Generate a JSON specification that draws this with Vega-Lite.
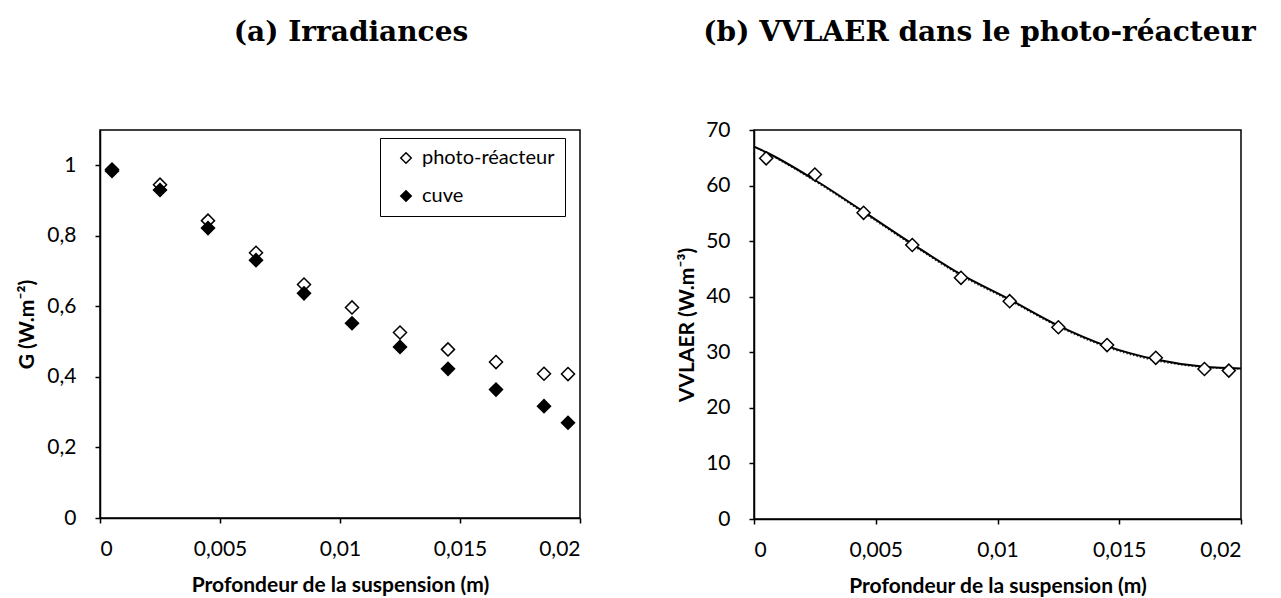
{
  "$schema": "https://vega.github.io/schema/vega-lite/v6.json",
  "padding": {"left": 16, "top": 18, "right": 5, "bottom": 5},
  "background": "white",
  "spacing": 93,
  "config": {
    "font": "Lato",
    "view": {"stroke": "black", "strokeWidth": 1.5},
    "axis": {
      "grid": false,
      "domainColor": "black", "domainWidth": 1.5,
      "tickColor": "black", "tickWidth": 1.5, "tickSize": 5,
      "labelColor": "black", "labelFont": "Lato", "labelFontSize": 21, "labelPadding": 15,
      "titleFont": "Lato", "titleFontSize": 21, "titleFontWeight": "bold", "titleColor": "black"
    },
    "axisY": {"labelPadding": 19},
    "title": {"font": "DejaVu Serif", "fontSize": 28, "fontWeight": "bold", "color": "black", "anchor": "middle"}
  },
  "hconcat": [
    {
      "width": 480,
      "height": 388,
      "title": {"text": "(a) Irradiances", "offset": 83, "dx": 11},
      "data": {"values": [
        {"profondeur": 0.0005, "G": 0.988, "serie": "photo-réacteur"},
        {"profondeur": 0.0025, "G": 0.945, "serie": "photo-réacteur"},
        {"profondeur": 0.0045, "G": 0.843, "serie": "photo-réacteur"},
        {"profondeur": 0.0065, "G": 0.752, "serie": "photo-réacteur"},
        {"profondeur": 0.0085, "G": 0.662, "serie": "photo-réacteur"},
        {"profondeur": 0.0105, "G": 0.597, "serie": "photo-réacteur"},
        {"profondeur": 0.0125, "G": 0.526, "serie": "photo-réacteur"},
        {"profondeur": 0.0145, "G": 0.478, "serie": "photo-réacteur"},
        {"profondeur": 0.0165, "G": 0.442, "serie": "photo-réacteur"},
        {"profondeur": 0.0185, "G": 0.409, "serie": "photo-réacteur"},
        {"profondeur": 0.0195, "G": 0.408, "serie": "photo-réacteur"},
        {"profondeur": 0.0005, "G": 0.984, "serie": "cuve"},
        {"profondeur": 0.0025, "G": 0.930, "serie": "cuve"},
        {"profondeur": 0.0045, "G": 0.822, "serie": "cuve"},
        {"profondeur": 0.0065, "G": 0.731, "serie": "cuve"},
        {"profondeur": 0.0085, "G": 0.637, "serie": "cuve"},
        {"profondeur": 0.0105, "G": 0.552, "serie": "cuve"},
        {"profondeur": 0.0125, "G": 0.485, "serie": "cuve"},
        {"profondeur": 0.0145, "G": 0.423, "serie": "cuve"},
        {"profondeur": 0.0165, "G": 0.364, "serie": "cuve"},
        {"profondeur": 0.0185, "G": 0.317, "serie": "cuve"},
        {"profondeur": 0.0195, "G": 0.270, "serie": "cuve"}
      ]},
      "mark": {"type": "point", "shape": "diamond", "filled": true, "stroke": "black", "strokeWidth": 1.5, "size": 170, "opacity": 1},
      "encoding": {
        "x": {
          "field": "profondeur", "type": "quantitative",
          "scale": {"domain": [0, 0.02], "nice": false, "zero": true},
          "axis": {
            "values": [0, 0.005, 0.01, 0.015, 0.02],
            "labelExpr": "replace(format(datum.value, '~g'), '.', ',')",
            "title": "Profondeur de la suspension (m)",
            "titlePadding": 15
          }
        },
        "y": {
          "field": "G", "type": "quantitative",
          "scale": {"domain": [0, 1.1], "nice": false},
          "axis": {
            "values": [0, 0.2, 0.4, 0.6, 0.8, 1],
            "labelExpr": "replace(format(datum.value, '~g'), '.', ',')",
            "title": "G (W.m⁻²)",
            "titlePadding": 9
          }
        },
        "fill": {
          "field": "serie", "type": "nominal",
          "scale": {"domain": ["photo-réacteur", "cuve"], "range": ["white", "black"]},
          "legend": {
            "title": null,
            "orient": "none",
            "legendX": 280,
            "legendY": 8,
            "strokeColor": "black",
            "padding": 10,
            "rowPadding": 18,
            "symbolType": "diamond",
            "symbolSize": 110,
            "symbolStrokeColor": "black",
            "symbolStrokeWidth": 1.5,
            "symbolOffset": 6,
            "labelFont": "Lato",
            "labelFontSize": 20,
            "labelColor": "black",
            "labelOffset": 6
          }
        }
      }
    },
    {
      "width": 487,
      "height": 389,
      "title": {"text": "(b) VVLAER dans le photo-réacteur", "offset": 72, "dx": -18},
      "layer": [
        {
          "data": {"values": [
            {"profondeur": 0.0, "VVLAER": 67.0},
            {"profondeur": 0.0005, "VVLAER": 65.9},
            {"profondeur": 0.0025, "VVLAER": 60.8},
            {"profondeur": 0.0045, "VVLAER": 55.1},
            {"profondeur": 0.0065, "VVLAER": 49.3},
            {"profondeur": 0.0085, "VVLAER": 43.8},
            {"profondeur": 0.0105, "VVLAER": 39.3},
            {"profondeur": 0.0125, "VVLAER": 34.6},
            {"profondeur": 0.0145, "VVLAER": 30.9},
            {"profondeur": 0.0165, "VVLAER": 28.5},
            {"profondeur": 0.0185, "VVLAER": 27.3},
            {"profondeur": 0.02, "VVLAER": 27.0}
          ]},
          "mark": {"type": "line", "color": "#333333", "strokeWidth": 1.5, "strokeDash": [1.5, 2], "interpolate": "monotone"},
          "encoding": {
            "x": {"field": "profondeur", "type": "quantitative"},
            "y": {"field": "VVLAER", "type": "quantitative"}
          }
        },
        {
          "data": {"values": [
            {"profondeur": 0.0, "VVLAER": 67.0},
            {"profondeur": 0.0005, "VVLAER": 66.0},
            {"profondeur": 0.0025, "VVLAER": 61.0},
            {"profondeur": 0.0045, "VVLAER": 55.3},
            {"profondeur": 0.0065, "VVLAER": 49.5},
            {"profondeur": 0.0085, "VVLAER": 44.0},
            {"profondeur": 0.0105, "VVLAER": 39.5},
            {"profondeur": 0.0125, "VVLAER": 34.8},
            {"profondeur": 0.0145, "VVLAER": 31.1},
            {"profondeur": 0.0165, "VVLAER": 28.7},
            {"profondeur": 0.0185, "VVLAER": 27.4},
            {"profondeur": 0.02, "VVLAER": 27.1}
          ]},
          "mark": {"type": "line", "color": "black", "strokeWidth": 2, "interpolate": "monotone"},
          "encoding": {
            "x": {"field": "profondeur", "type": "quantitative"},
            "y": {"field": "VVLAER", "type": "quantitative"}
          }
        },
        {
          "data": {"values": [
            {"profondeur": 0.0005, "VVLAER": 64.9},
            {"profondeur": 0.0025, "VVLAER": 62.0},
            {"profondeur": 0.0045, "VVLAER": 55.1},
            {"profondeur": 0.0065, "VVLAER": 49.3},
            {"profondeur": 0.0085, "VVLAER": 43.4},
            {"profondeur": 0.0105, "VVLAER": 39.2},
            {"profondeur": 0.0125, "VVLAER": 34.5},
            {"profondeur": 0.0145, "VVLAER": 31.3},
            {"profondeur": 0.0165, "VVLAER": 29.0},
            {"profondeur": 0.0185, "VVLAER": 27.0},
            {"profondeur": 0.0195, "VVLAER": 26.7}
          ]},
          "mark": {"type": "point", "shape": "diamond", "filled": true, "fill": "white", "stroke": "black", "strokeWidth": 1.5, "size": 170, "opacity": 1},
          "encoding": {
            "x": {
              "field": "profondeur", "type": "quantitative",
              "scale": {"domain": [0, 0.02], "nice": false},
              "axis": {
                "values": [0, 0.005, 0.01, 0.015, 0.02],
                "labelExpr": "replace(format(datum.value, '~g'), '.', ',')",
                "title": "Profondeur de la suspension (m)",
                "titlePadding": 15
              }
            },
            "y": {
              "field": "VVLAER", "type": "quantitative",
              "scale": {"domain": [0, 70], "nice": false},
              "axis": {
                "values": [0, 10, 20, 30, 40, 50, 60, 70],
                "title": "VVLAER (W.m⁻³)",
                "titlePadding": 8
              }
            }
          }
        }
      ]
    }
  ]
}
